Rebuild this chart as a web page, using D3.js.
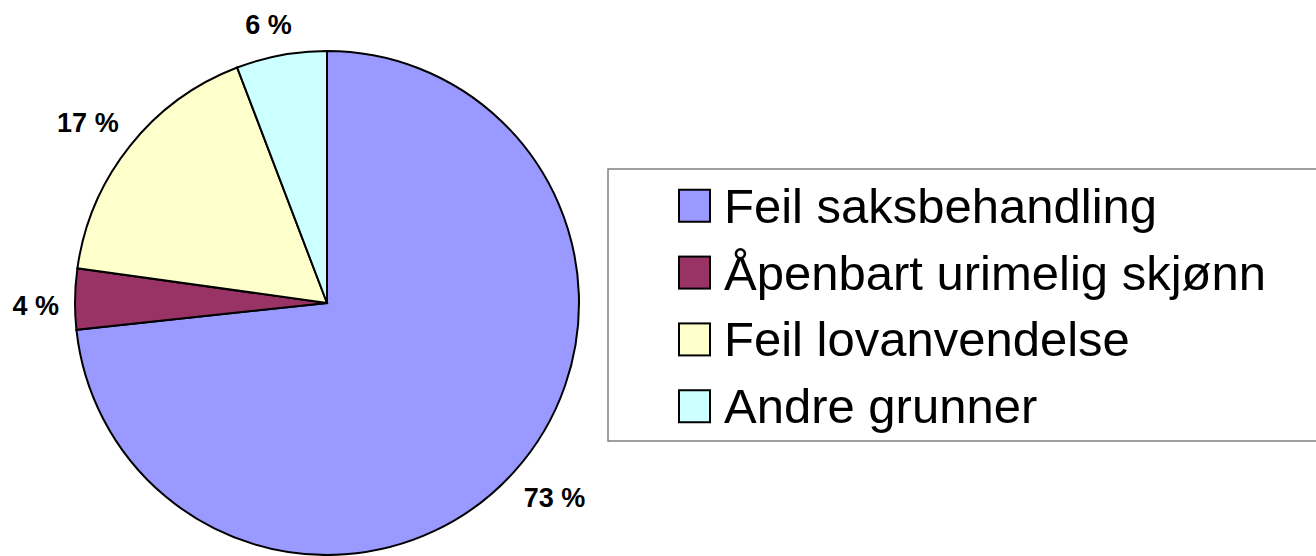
<!DOCTYPE html>
<html lang="no">
<head>
<meta charset="utf-8"/>
<title>Pie chart</title>
<script src="https://d3js.org/d3.v7.min.js"></script>
<style>
  body { margin: 0; background: #fff; overflow: hidden; }
  svg { display: block; font-family: Arial, "Liberation Sans", sans-serif; }
  .slice { stroke: #000; stroke-width: 2px; }
  .label { font-weight: bold; font-size: 27px; fill: #000; }
  .legend-text { font-size: 49px; fill: #000; }
</style>
</head>
<body>
<div id="chart"></div>
<script>
  // data
  var categories = ["Feil saksbehandling", "Åpenbart urimelig skjønn", "Feil lovanvendelse", "Andre grunner"];
  var values = [73.3, 3.9, 17.0, 5.8];
  var labels = ["73 %", "4 %", "17 %", "6 %"];
  var colors = ["#9999FF", "#993366", "#FFFFCC", "#CCFFFF"];

  var width = 1316, height = 556;
  var cx = 327, cy = 303, radius = 252;

  var svg = d3.select("#chart")
    .append("svg")
      .attr("width", width)
      .attr("height", height);

  var pie = d3.pie()
    .sort(null)
    .value(function(d) { return d; });

  var arc = d3.arc()
    .innerRadius(0)
    .outerRadius(radius);

  var arcs = pie(values);

  var g = svg.append("g")
    .attr("transform", "translate(" + cx + "," + cy + ")");

  g.selectAll("path.slice")
    .data(arcs)
    .enter().append("path")
      .attr("class", "slice")
      .attr("fill", function(d, i) { return colors[i]; })
      .attr("d", arc);

  // labels sit just outside the rim, nearest edge about 16px from it
  g.selectAll("text.label")
    .data(arcs)
    .enter().append("text")
      .attr("class", "label")
      .attr("text-anchor", "middle")
      .attr("dy", "0.36em")
      .text(function(d, i) { return labels[i]; })
      .each(function(d) {
        var t = d3.select(this);
        var bb = this.getBBox();
        var a = (d.startAngle + d.endAngle) / 2 - 0.025;
        var sx = Math.sin(a), sy = -Math.cos(a);
        var dist = radius + 16 + (bb.width / 2) * Math.abs(sx) + 12 * Math.abs(sy);
        t.attr("x", sx * dist).attr("y", sy * dist);
      });

  // legend
  var legend = svg.append("g")
    .attr("transform", "translate(608,169)");

  legend.append("rect")
    .attr("width", 760)
    .attr("height", 272)
    .attr("fill", "#fff")
    .attr("stroke", "#808080")
    .attr("stroke-width", 1.5);

  var rowY = d3.scaleBand()
    .domain(categories)
    .range([2, 272])
    .paddingInner(0)
    .paddingOuter(0.02);

  var rows = legend.selectAll("g.row")
    .data(categories)
    .enter().append("g")
      .attr("class", "row")
      .attr("transform", function(d) { return "translate(0," + (rowY(d) + rowY.bandwidth() / 2) + ")"; });

  rows.append("rect")
    .attr("x", 71)
    .attr("y", -16)
    .attr("width", 31)
    .attr("height", 32)
    .attr("fill", function(d, i) { return colors[i]; })
    .attr("stroke", "#000")
    .attr("stroke-width", 2);

  rows.append("text")
    .attr("class", "legend-text")
    .attr("x", 116)
    .attr("y", 17)
    .text(function(d) { return d; });
</script>
</body>
</html>
